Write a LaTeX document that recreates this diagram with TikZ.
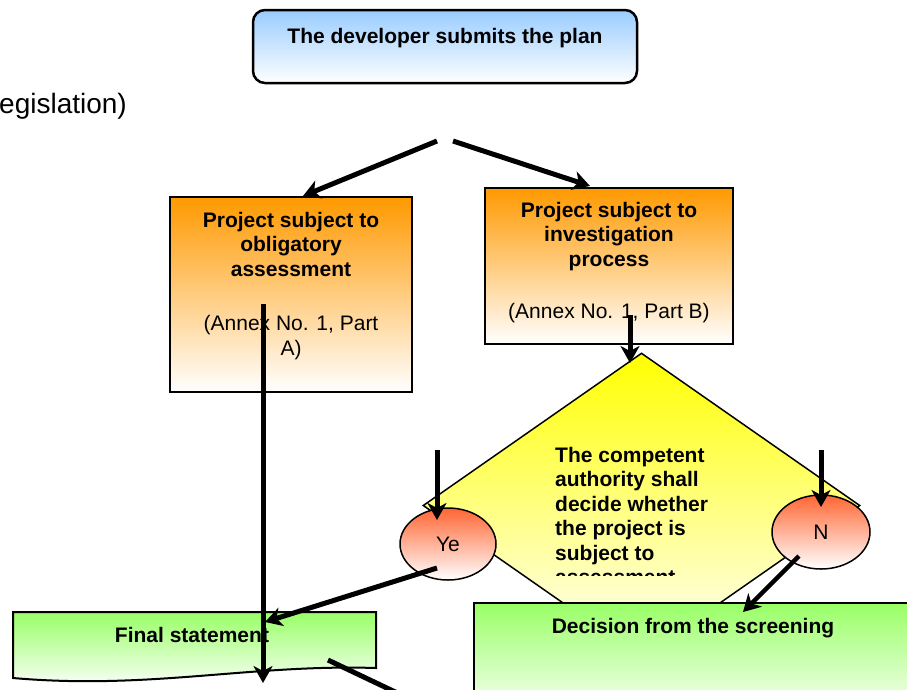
\documentclass[tikz,border=0pt]{standalone}
\usepackage{fontspec}
\setmainfont{Liberation Sans}
\usetikzlibrary{arrows.meta,shapes.geometric}
\definecolor{cblue}{HTML}{99CCFF}
\definecolor{corange}{HTML}{FF9900}
\definecolor{cyellow}{HTML}{FFFF00}
\definecolor{cred}{HTML}{FF6633}
\definecolor{cgreen}{HTML}{99FF66}
\begin{document}
\begin{tikzpicture}[x=1pt,y=-1pt,
  fs/.style={font=\fontsize{21}{24.5}\selectfont, inner sep=0pt},
  fsb/.style={font=\fontsize{21}{24.5}\selectfont\bfseries, inner sep=0pt},
  obox/.style={draw, line width=2pt, top color=corange, bottom color=white, inner sep=0pt},
  gbox/.style={draw, line width=2pt, top color=cgreen, bottom color=white},
  oval/.style={ellipse, draw, line width=1.5pt, top color=cred, bottom color=white, inner sep=0pt, font=\fontsize{21}{24.5}\selectfont},
  arr/.style={line width=5pt, -{Stealth[length=17pt,width=19pt,inset=5pt]}},
  thick line/.style={line width=5pt}]
\useasboundingbox (0,0) rectangle (907,689);
\clip (0,0) rectangle (907,689);

% top box
\node[draw, rounded corners=12pt, line width=2.5pt, top color=cblue, bottom color=white,
      minimum width=384pt, minimum height=73pt, inner sep=0pt] (topbox) at (445,46.5) {};
\node[fsb, anchor=base] (toptext) at (445,43) {The developer submits the plan};

% cut-off text at left
\node[font=\fontsize{28}{32}\selectfont, inner sep=0pt, anchor=base west] (leg) at (-1,113) {egislation)};

% orange boxes
\node[obox, minimum width=242pt, minimum height=195pt] (lbox) at (291,294.5) {};
\node[fsb, align=center, anchor=north] (ltext) at (291,211.7)
  {Project subject to\\obligatory\\assessment\\[30pt]\mdseries(Annex No. 1, Part\\\mdseries A)};
\node[obox, minimum width=248pt, minimum height=156pt] (rbox) at (609,266) {};
\node[fsb, align=center, anchor=north] (rtext) at (609,201.7)
  {Project subject to\\investigation\\process\\[27.5pt]\mdseries(Annex No. 1, Part B)};

% decision diamond
\node[diamond, draw, line width=1.5pt, top color=cyellow, bottom color=white,
      minimum width=437pt, minimum height=305pt, inner sep=0pt] (dia) at (641.5,505.5) {};
\begin{scope}
  \clip (540,430) rectangle (760,575);
  \node[fsb, align=left, anchor=north west] (dtext) at (555,446.7)
    {The competent\\authority shall\\decide whether\\the project is\\subject to\\assessment};
\end{scope}

% yes / no ovals
\node[oval, minimum width=96pt, minimum height=72pt] (ye) at (448,544) {Ye};
\node[oval, minimum width=98pt, minimum height=74pt] (no) at (821,532) {N};

% green boxes
\draw[gbox] (13,612) -- (376,612) -- (376,668)
  .. controls (250,664) and (150,690) .. (13,678) -- cycle;
\node[fsb, anchor=base] (fintext) at (192,642) {Final statement};
\node[gbox, minimum width=438pt, minimum height=117pt, inner sep=0pt] (dec) at (693,661.5) {};
\node[fsb, anchor=base] (dectext) at (693,633) {Decision from the screening};

% connector end points
\coordinate (s1) at (437,141);
\coordinate (s2) at (453,141);
\coordinate (lt) at (303,196);
\coordinate (rt) at (590,186);
\coordinate (lv1) at (263,304);
\coordinate (lv2) at (263,683);
\coordinate (rv1) at (630,315);
\coordinate (rv2) at (630,363);
\coordinate (ya1) at (437,450);
\coordinate (ya2) at (437,520);
\coordinate (na1) at (821,450);
\coordinate (na2) at (821,507);
\coordinate (yf1) at (437,568);
\coordinate (yf2) at (265,622);
\coordinate (nd1) at (799,556);
\coordinate (nd2) at (743,612);
\coordinate (fo1) at (328,660);
\coordinate (fo2) at (410,699);

\draw[arr] (s1) -- (lt);
\draw[arr] (s2) -- (rt);
\draw[arr] (lv1) -- (lv2);
\draw[arr] (rv1) -- (rv2);
\draw[arr] (ya1) -- (ya2);
\draw[arr] (na1) -- (na2);
\draw[arr] (yf1) -- (yf2);
\draw[arr, line width=4.5pt] (nd1) -- (nd2);
\draw[thick line] (fo1) -- (fo2);
\end{tikzpicture}
\end{document}
